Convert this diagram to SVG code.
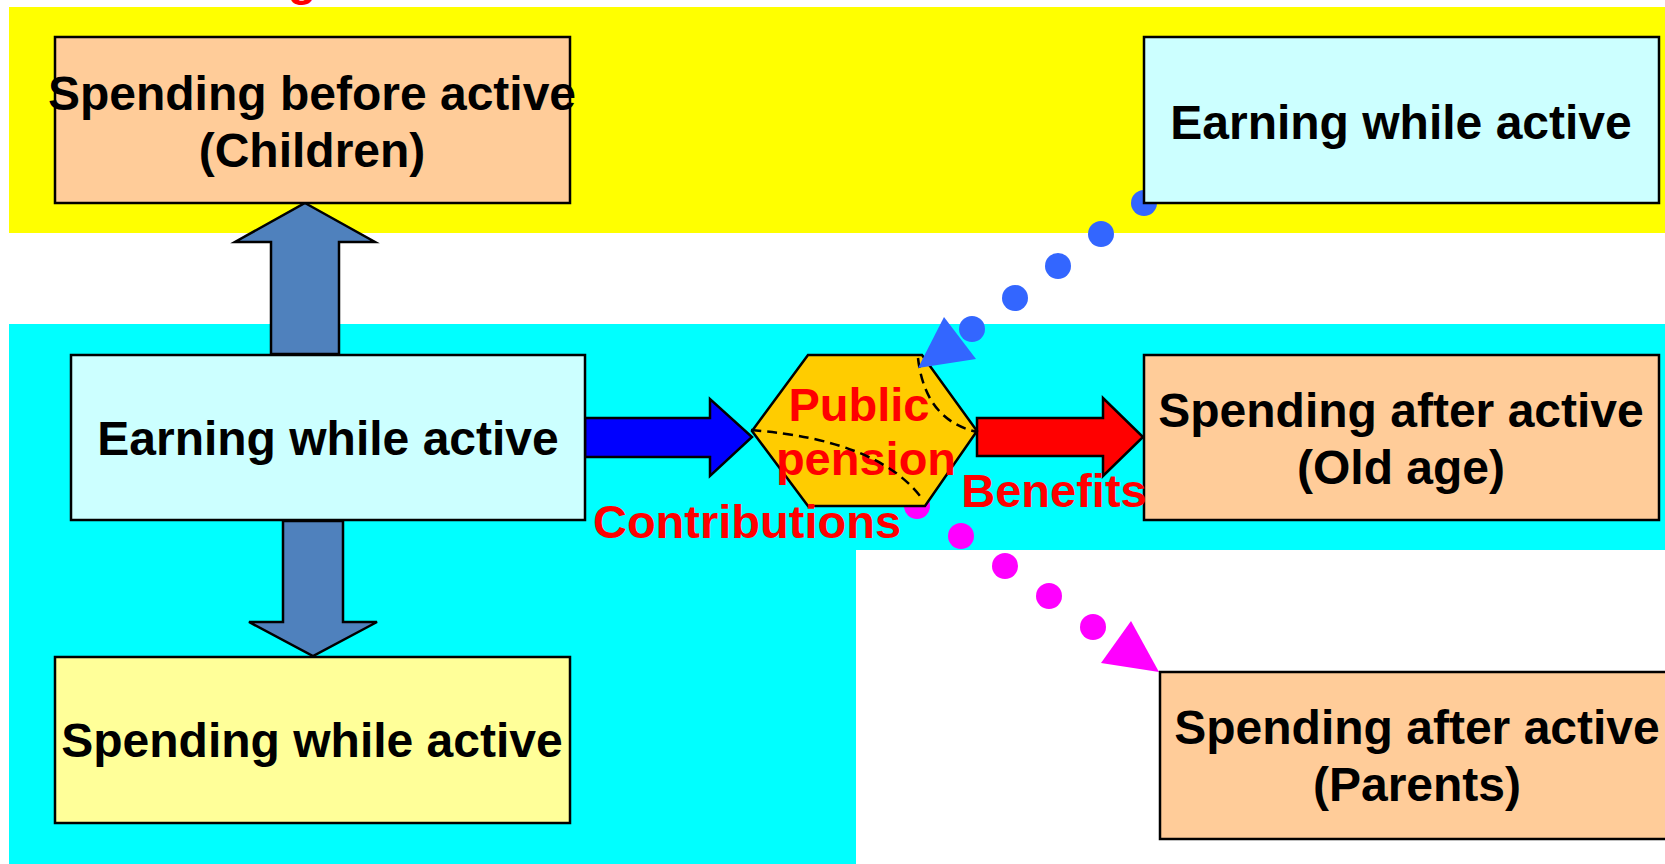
<svg xmlns="http://www.w3.org/2000/svg" width="1665" height="864" viewBox="0 0 1665 864">
  <style>
    .box { stroke: #000; stroke-width: 2.5; }
    .lbl { font-family: "Liberation Sans", Arial, sans-serif; font-weight: bold; font-size: 48px; fill: #000; text-anchor: middle; }
    .red { font-family: "Liberation Sans", Arial, sans-serif; font-weight: bold; font-size: 47px; fill: #FF0000; text-anchor: middle; }
    .blk { stroke: #000; stroke-width: 2.5; stroke-linejoin: miter; }
    .dash { fill: none; stroke: #000; stroke-width: 2.5; stroke-dasharray: 10 6; }
    .bdot { fill: #3366FF; }
    .mdot { fill: #FF00FF; }
  </style>

  <rect width="1665" height="864" fill="#FFFFFF"/>

  <!-- background bands -->
  <g id="bands">
    <rect x="9" y="7" width="1656" height="226" fill="#FFFF00"/>
    <polygon points="9,324 1665,324 1665,550 856,550 856,864 9,864" fill="#00FFFF"/>
  </g>

  <!-- title descender peeking in at the top edge -->
  <text class="red" x="302" y="-5">g</text>

  <!-- block arrows and dotted links -->
  <g id="connectors">
    <polygon class="blk" fill="#4F81BD" points="305,203 375,242 339,242 339,354 271,354 271,242 235,242"/>
    <polygon class="blk" fill="#4F81BD" points="283,521 343,521 343,622 377,622 313,656 249,622 283,622"/>
    <polygon class="blk" fill="#0000FF" points="585,418 710,418 710,399 752,437 710,476 710,457 585,457"/>
    <polygon class="blk" fill="#FF0000" points="977,418 1103,418 1103,398 1143,437 1103,476 1103,456 977,456"/>

    <g id="link-earning-to-pension">
      <circle class="bdot" cx="1144" cy="203" r="13"/>
      <circle class="bdot" cx="1101" cy="234" r="13"/>
      <circle class="bdot" cx="1058" cy="266" r="13"/>
      <circle class="bdot" cx="1015" cy="298" r="13"/>
      <circle class="bdot" cx="972" cy="329" r="13"/>
    </g>
    <g id="link-pension-to-parents">
      <circle class="mdot" cx="917" cy="506" r="13"/>
      <circle class="mdot" cx="961" cy="536" r="13"/>
      <circle class="mdot" cx="1005" cy="566" r="13"/>
      <circle class="mdot" cx="1049" cy="596" r="13"/>
      <circle class="mdot" cx="1093" cy="627" r="13"/>
      <polygon fill="#FF00FF" points="1131,621 1159,672 1101,663"/>
    </g>
  </g>

  <g id="children">
    <rect class="box" x="55" y="37" width="515" height="166" fill="#FFCC99"/>
    <text class="lbl" x="312" y="110">Spending before active</text>
    <text class="lbl" x="312" y="167">(Children)</text>
  </g>

  <g id="earning-top">
    <rect class="box" x="1144" y="37" width="515" height="166" fill="#CCFFFF"/>
    <text class="lbl" x="1401" y="139">Earning while active</text>
  </g>

  <g id="earning">
    <rect class="box" x="71" y="355" width="514" height="165" fill="#CCFFFF"/>
    <text class="lbl" x="328" y="455">Earning while active</text>
  </g>

  <g id="old-age">
    <rect class="box" x="1144" y="355" width="515" height="165" fill="#FFCC99"/>
    <text class="lbl" x="1401" y="427">Spending after active</text>
    <text class="lbl" x="1401" y="484">(Old age)</text>
  </g>

  <g id="spending-active">
    <rect class="box" x="55" y="657" width="515" height="166" fill="#FFFF99"/>
    <text class="lbl" x="312" y="757">Spending while active</text>
  </g>

  <g id="parents">
    <rect class="box" x="1160" y="672" width="520" height="167" fill="#FFCC99"/>
    <text class="lbl" x="1417" y="744">Spending after active</text>
    <text class="lbl" x="1417" y="801">(Parents)</text>
  </g>

  <g id="public-pension">
    <polygon class="blk" fill="#FFCC00" points="752,431 808,355 922,355 977,431 925,506 808,506"/>
    <text class="red" x="859" y="421">Public</text>
    <text class="red" x="866" y="475">pension</text>
    <path class="dash" d="M751,430 Q880,440 923,500"/>
    <path class="dash" d="M918,358 Q925,420 977,432"/>
  </g>

  <!-- arrowhead of the blue dotted link sits over the hexagon -->
  <polygon fill="#3366FF" points="944,317 976,359 918,368"/>

  <g id="flow-labels">
    <text class="red" x="747" y="538">Contributions</text>
    <text class="red" x="1054" y="507">Benefits</text>
  </g>
</svg>
